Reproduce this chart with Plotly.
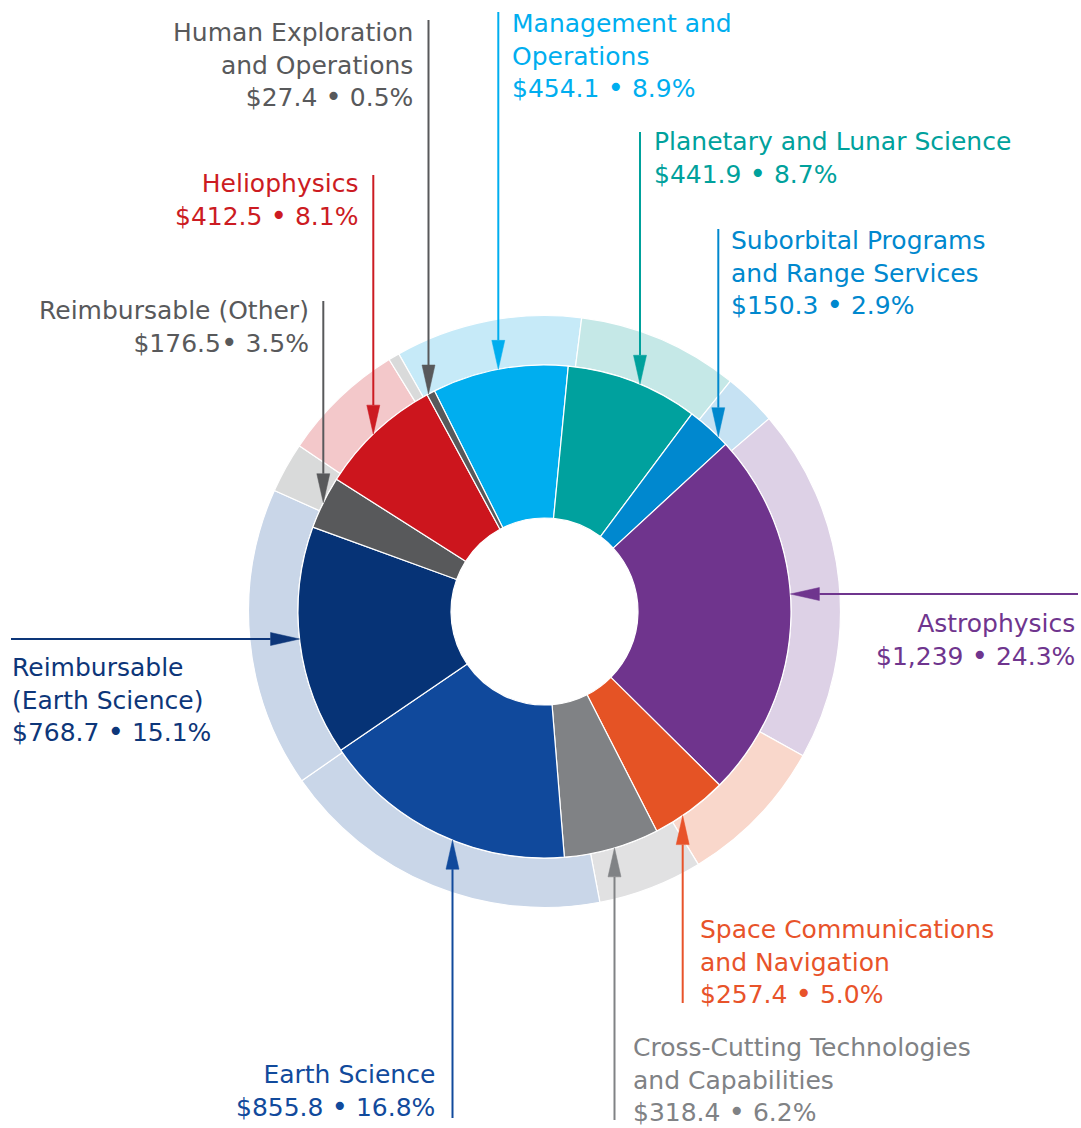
import math
import plotly.graph_objects as go

# Budget categories, clockwise from the top-left of the ring
categories = [
    "Management and Operations",
    "Planetary and Lunar Science",
    "Suborbital Programs and Range Services",
    "Astrophysics",
    "Space Communications and Navigation",
    "Cross-Cutting Technologies and Capabilities",
    "Earth Science",
    "Reimbursable (Earth Science)",
    "Reimbursable (Other)",
    "Heliophysics",
    "Human Exploration and Operations",
]
amounts = [454.1, 441.9, 150.3, 1239, 257.4, 318.4, 855.8, 768.7, 176.5, 412.5, 27.4]
percents = [8.9, 8.7, 2.9, 24.3, 5.0, 6.2, 16.8, 15.1, 3.5, 8.1, 0.5]
amount_labels = ["$454.1", "$441.9", "$150.3", "$1,239", "$257.4", "$318.4",
                 "$855.8", "$768.7", "$176.5", "$412.5", "$27.4"]
# Outer band shares (percent)
outer_values = [10.2, 8.8, 2.9, 19.4, 8.2, 5.7, 18.3, 16.4, 2.75, 6.75, 0.6]

solid_colors = ["#00AEEF", "#00A19E", "#0088CF", "#6F348D", "#E55325", "#808285",
                "#10499C", "#063376", "#58595B", "#CC151D", "#58595B"]
light_colors = ["#C6EAF8", "#C5E8E7", "#C6E2F3", "#DDD1E6", "#F9D7CB", "#E1E1E2",
                "#C9D6E8", "#C9D6E8", "#D9DADA", "#F3C8CA", "#D9DADA"]
text_colors = ["#00AEEF", "#00A19C", "#0088CE", "#6F358E", "#E8532A", "#808285",
               "#114A9C", "#0D3679", "#58595B", "#CC1B22", "#58595B"]

W, H = 1081, 1128
CX, CY = 544.5, 611.5
R_OUT, R_IN, R_HOLE = 296.0, 246.5, 93.5


def px(x):
    return x / W


def py(y):
    return 1 - y / H


def dom(r):
    return dict(x=[px(CX - r), px(CX + r)], y=[py(CY + r), py(CY - r)])


fig = go.Figure()
fig.add_trace(go.Pie(
    labels=categories, values=outer_values, sort=False, direction="clockwise",
    rotation=-29.5, hole=R_IN / R_OUT, domain=dom(R_OUT),
    marker=dict(colors=light_colors, line=dict(color="white", width=1.2)),
    textinfo="none", hoverinfo="skip", showlegend=False,
))
fig.add_trace(go.Pie(
    labels=categories, values=amounts, sort=False, direction="clockwise",
    rotation=-26.5, hole=R_HOLE / R_IN, domain=dom(R_IN),
    marker=dict(colors=solid_colors, line=dict(color="white", width=1.2)),
    textinfo="none", hoverinfo="skip", showlegend=False,
))

FONT = "DejaVu Sans"
FS = 25  # plotly spaces lines at 1.3em -> 32.5 px

# label layout: (index, lines, anchor, x, first baseline y)
labels = [
    (0, ["Management and", "Operations"], "left", 510, 31),
    (1, ["Planetary and Lunar Science"], "left", 652, 149),
    (2, ["Suborbital Programs", "and Range Services"], "left", 729, 248),
    (3, ["Astrophysics"], "right", 1077, 631),
    (4, ["Space Communications", "and Navigation"], "left", 698, 937),
    (5, ["Cross-Cutting Technologies", "and Capabilities"], "left", 631, 1055),
    (6, ["Earth Science"], "right", 437, 1082),
    (7, ["Reimbursable", "(Earth Science)"], "left", 10, 675),
    (8, ["Reimbursable (Other)"], "right", 311, 318),
    (9, ["Heliophysics"], "right", 360, 191),
    (10, ["Human Exploration", "and Operations"], "right", 415, 40),
]

BULLET = '<span style="font-size:28px">•</span>'

annotations = []
for idx, lines, anchor, x, y0 in labels:
    sep = BULLET + " " if idx == 8 else " " + BULLET + " "
    value_line = f"{amount_labels[idx]}{sep}{percents[idx]:.1f}%"
    annotations.append(dict(
        x=px(x), y=py(y0 - 24), xref="paper", yref="paper",
        text="<br>".join(lines + [value_line]), showarrow=False,
        xanchor=anchor, yanchor="top", align=anchor,
        font=dict(family=FONT, size=FS, color=text_colors[idx]),
    ))

# leader lines: (index, orientation, fixed coordinate, free end)
leaders = [
    (0, "v", 498.3, 12),
    (1, "v", 640, 132),
    (2, "v", 718.3, 229),
    (3, "h", 594, 1078),
    (4, "v", 682.7, 1003),
    (5, "v", 614.5, 1120),
    (6, "v", 452.5, 1118),
    (7, "h", 639, 11),
    (8, "v", 323.3, 301),
    (9, "v", 373.3, 175),
    (10, "v", 428.5, 20),
]

HEAD_L, HEAD_W = 29, 13
shapes = []
for idx, ori, c, end in leaders:
    col = text_colors[idx]
    if ori == "v":
        dy = math.sqrt(R_IN ** 2 - (c - CX) ** 2)
        tip = CY - dy if end < CY else CY + dy
        sgn = 1 if end < CY else -1  # head points down (+y) when coming from above
        base = tip - sgn * HEAD_L
        shapes.append(dict(type="line", xref="paper", yref="paper",
                           x0=px(c), x1=px(c), y0=py(end), y1=py(base),
                           line=dict(color=col, width=2)))
        path = (f"M {px(c)} {py(tip)} L {px(c - HEAD_W / 2)} {py(base)} "
                f"L {px(c + HEAD_W / 2)} {py(base)} Z")
    else:
        dx = math.sqrt(R_IN ** 2 - (c - CY) ** 2)
        tip = CX + dx if end > CX else CX - dx
        sgn = -1 if end > CX else 1
        base = tip - sgn * HEAD_L
        shapes.append(dict(type="line", xref="paper", yref="paper",
                           x0=px(end), x1=px(base), y0=py(c), y1=py(c),
                           line=dict(color=col, width=2)))
        path = (f"M {px(tip)} {py(c)} L {px(base)} {py(c - HEAD_W / 2)} "
                f"L {px(base)} {py(c + HEAD_W / 2)} Z")
    shapes.append(dict(type="path", xref="paper", yref="paper", path=path,
                       fillcolor=col, line=dict(color=col, width=0.5)))

fig.update_layout(
    width=W, height=H, margin=dict(l=0, r=0, t=0, b=0),
    paper_bgcolor="white", plot_bgcolor="white",
    annotations=annotations, shapes=shapes,
)

fig.write_html("out.html")
